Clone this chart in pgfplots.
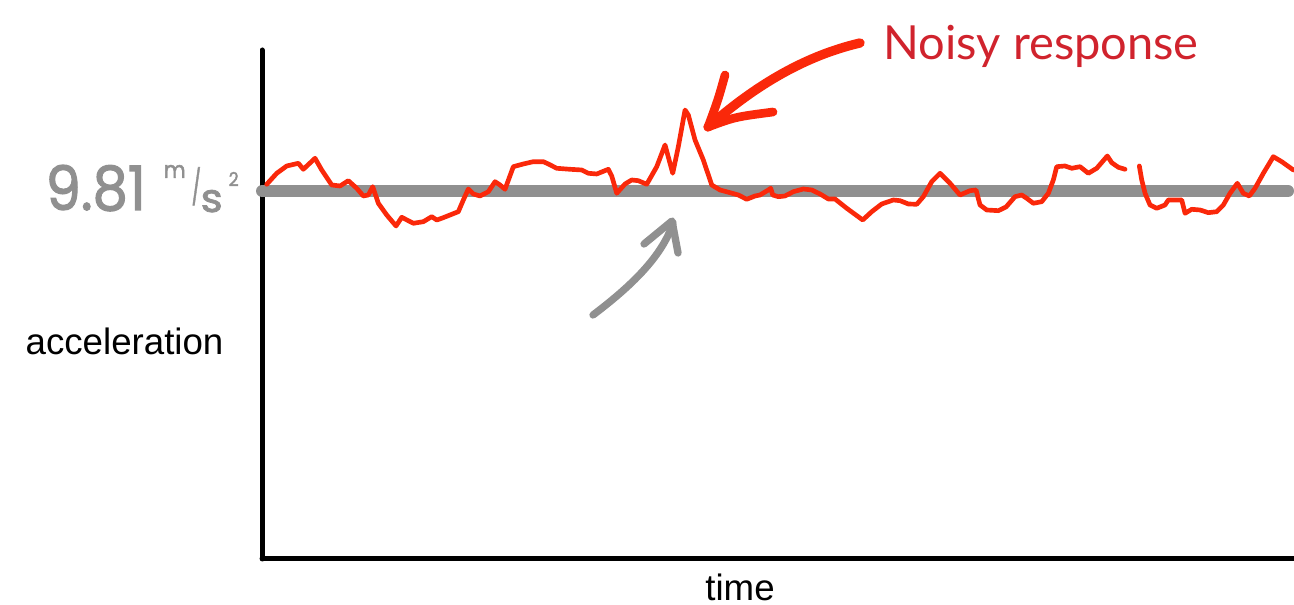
\documentclass[border=0pt]{standalone}
\usepackage{pgfplots}
\pgfplotsset{compat=1.18}
\usepackage{fontspec}
\setmainfont{Liberation Sans}
\newfontfamily\titlefont{Lato}
\newfontfamily\handfont{Poppins}[FakeBold=2]
\definecolor{noisered}{RGB}{250,40,10}
\definecolor{titlered}{RGB}{208,35,45}
\definecolor{refgray}{RGB}{144,144,144}
\begin{document}
\begin{tikzpicture}[x=0.3pt,y=0.3pt]
\begin{axis}[
  at={(262,46)}, anchor=origin,
  scale only axis,
  width=309.6pt, height=152.7pt,
  xmin=262, xmax=1294, ymin=46, ymax=555,
  axis lines=left,
  axis line style={-, line width=1.5pt, line cap=round},
  ticks=none,
  clip=false,
]
\coordinate (BL) at (axis cs:0,0);
\coordinate (TR) at (axis cs:1294,605);
% reference line
\addplot[refgray, line width=3.6pt, line cap=round] coordinates {(262,414) (1288,414)};
% noisy response, first stretch
\addplot[noisered, line width=1.4pt, line join=round, line cap=round] coordinates {
(266.7,420.7) (276.7,431.7) (286.7,439) (298.3,441.7) (303.3,435.7) (315,446.7)
(321.7,435) (331.7,420) (340,419) (348.3,424.3) (356.7,416.7) (363.3,409)
(368.3,410) (372.7,418.3) (378.3,401.7) (386.7,390) (396,379) (401.7,387.7)
(413.3,381.7) (423.3,383.3) (431.7,388.3) (436.7,385) (441.7,386.7) (450,390)
(458.3,393.3) (463.3,405) (468.3,416) (473.3,411) (480,409) (488.3,413.3)
(495,423.3) (500,420) (505,415.7) (513.3,438.3) (523.3,441) (533.3,443.3)
(543.3,443.3) (548.3,441) (556.7,436.7) (570,435.7) (581.7,435) (588.3,431.7)
(596.7,431) (608.3,435.7) (611.7,429) (616.7,411.7) (625,421) (631.7,425)
(638.3,424.3) (646.7,420.7) (656.7,438.3) (665,460) (672.7,431.7) (678.3,458.3)
(685,495) (688.3,490) (695,465) (703.3,445) (711.7,420) (720,415)
(730,412.3) (738.3,410) (746.7,405.7) (755,409) (760,410) (768.3,415)
(770.7,416.7) (772.7,410) (778.3,408.3) (785,409) (793.3,413.3) (803.3,416)
(811.7,415) (820,411) (828.3,406) (835,406) (846.7,396.7) (862.7,385)
(871.7,393.3) (881.7,401) (893.3,405) (900,404.3) (908.3,401) (916.7,400.7)
(923.3,408.3) (931.7,423.3) (940,431.7) (950,421.7) (960,410) (970,414.3)
(976,415) (980,400) (986.7,395) (998.3,394.3) (1006,398) (1015,408.3)
(1021.7,410) (1026.7,406.7) (1033.3,401.7) (1041.7,403.3) (1048.3,411.7) (1053.3,425)
(1056.7,438.3) (1065,439) (1071.7,436.7) (1080,438.3) (1088.3,431.7) (1096.7,436.7)
(1107.3,449) (1111.7,442.3) (1118.3,437.7) (1125,435.7)
};
% noisy response, second stretch
\addplot[noisered, line width=1.4pt, line join=round, line cap=round] coordinates {
(1139.3,439) (1141.7,425) (1145,411.7) (1150,400) (1156.7,396.7) (1165,400)
(1168.3,405) (1181.7,405) (1185,391.7) (1191.7,395.7) (1200,395) (1208.3,392.3)
(1216.7,393.3) (1223.3,400) (1230,411.7) (1237.3,421.7) (1243.3,411.7) (1249.3,409)
(1255,416.7) (1263.3,431.7) (1273.3,448.3) (1281.7,443.3) (1293.3,435)
};
% red annotation arrow
\draw[noisered, line width=2.8pt, line cap=round, line join=round]
  (axis cs:860,562) .. controls (axis cs:800,548) and (axis cs:750,515) .. (axis cs:708,478);
\draw[noisered, line width=2.6pt, line cap=round, line join=round]
  (axis cs:725,530) .. controls (axis cs:718,505) .. (axis cs:708,478)
  .. controls (axis cs:735,488) .. (axis cs:773,493);
% gray annotation arrow
\draw[refgray, line width=2.2pt, line cap=round]
  (axis cs:593,290) .. controls (axis cs:630,318) and (axis cs:662,348) .. (axis cs:673,382);
\draw[refgray, line width=2.2pt, line cap=round, line join=round]
  (axis cs:644,361) -- (axis cs:672,384) -- (axis cs:678,352);
% texts
\node[anchor=base west, inner sep=0pt, text=titlered] at (axis cs:883,545)
  {\resizebox{94.5pt}{!}{\titlefont Noisy response}};
\node[anchor=base west, inner sep=0pt, text=refgray] at (axis cs:45,395)
  {\resizebox{30pt}{13.5pt}{\handfont 9.81}};
\node[anchor=base west, inner sep=0pt, text=refgray] at (axis cs:163,427)
  {\resizebox{6.6pt}{3.9pt}{\handfont m}};
\node[anchor=south west, inner sep=0pt, text=refgray] at (axis cs:191,399)
  {\resizebox*{2.8pt}{11.4pt}{\handfont /}};
\node[anchor=base west, inner sep=0pt, text=refgray] at (axis cs:200,393)
  {\resizebox{6.6pt}{6.6pt}{\handfont s}};
\node[anchor=base west, inner sep=0pt, text=refgray] at (axis cs:228,419)
  {\resizebox{3pt}{4.2pt}{\handfont 2}};
\node[anchor=base west, inner sep=0pt, font=\fontsize{11pt}{13pt}\selectfont] at (axis cs:25,250) {acceleration};
\node[anchor=base, inner sep=0pt, font=\fontsize{11pt}{13pt}\selectfont] at (axis cs:740,4) {time};
\end{axis}
\pgfresetboundingbox
\path (BL) rectangle (TR);
\end{tikzpicture}
\end{document}
